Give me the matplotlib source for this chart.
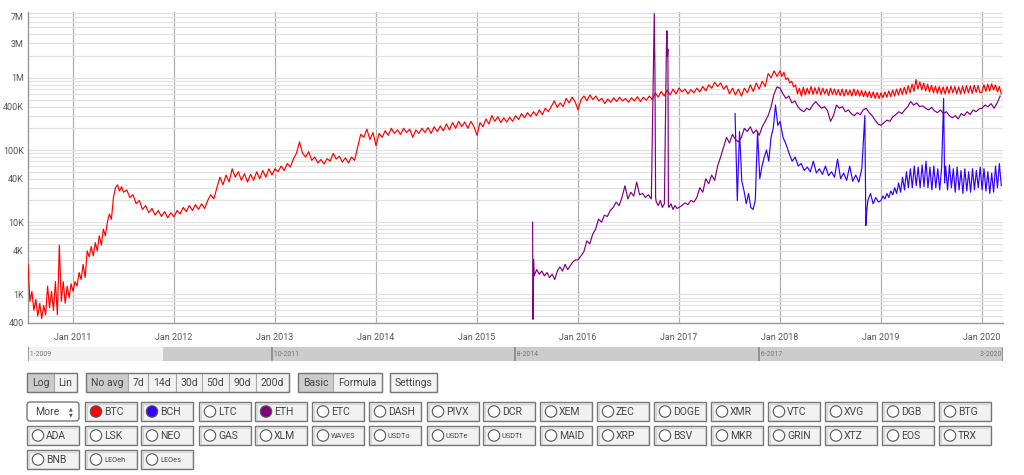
import numpy as np
import matplotlib
matplotlib.use('Agg')
import matplotlib.pyplot as plt
from matplotlib.patches import Rectangle, Circle, FancyBboxPatch
from matplotlib.ticker import FixedLocator, LogLocator, NullFormatter

plt.rcParams['font.family'] = ['Roboto', 'DejaVu Sans']

# ---- data: (start year, end year, values) segments, points evenly spaced inside each ----
btc_segments = [
    (2010.554, 2011.0, [2600, 800, 1100, 600, 850, 500, 750, 460, 700, 520, 1300, 650, 1100, 600,
                        1500, 520, 4800, 800, 1500, 750, 1300, 900, 1400]),
    (2011.0, 2011.5, [1100, 1500, 1300, 2000, 1600, 2600, 1700, 4000, 3300, 4600, 3400, 5200, 4000,
                      6500, 4800, 8000, 6500, 10000, 13000, 11000, 22000, 30000, 33000, 27000, 31000]),
    (2011.5, 2012.0, [26000, 28000, 22000, 24000, 18000, 20000, 15000, 17000, 13500, 15500, 12500,
                      14500, 12000, 14000, 11500, 13500]),
    (2012.0, 2013.0, [11800, 14500, 13000, 16000, 14000, 17000, 14500, 17500, 15000, 18000, 15500,
                      20000, 24000, 21000, 30000, 42000, 33000, 45000, 36000, 55000, 42000, 50000,
                      38000, 47000, 36000, 46000, 38000, 50000, 40000, 52000, 42000, 55000, 45000]),
    (2013.0, 2014.0, [55000, 50000, 60000, 52000, 65000, 58000, 75000, 90000, 130000, 90000, 80000,
                      95000, 72000, 80000, 66000, 74000, 64000, 76000, 70000, 90000, 75000, 82000,
                      68000, 78000, 66000, 80000, 72000, 110000, 165000, 150000, 195000, 140000, 175000]),
    (2014.0, 2015.0, [115000, 170000, 150000, 185000, 160000, 200000, 170000, 190000, 165000, 200000,
                      175000, 195000, 150000, 190000, 170000, 200000, 175000, 205000, 170000, 210000,
                      180000, 215000, 185000, 230000, 190000, 240000, 200000, 250000, 210000, 245000,
                      200000, 250000, 210000]),
    (2015.0, 2016.0, [160000, 240000, 210000, 270000, 230000, 300000, 250000, 290000, 240000, 280000,
                      245000, 285000, 250000, 300000, 265000, 320000, 280000, 330000, 290000, 340000,
                      300000, 360000, 310000, 380000, 340000, 400000, 480000, 390000, 450000, 400000,
                      520000, 450000, 540000, 470000]),
    (2016.0, 2017.0, [360000, 500000, 560000, 480000, 580000, 500000, 560000, 480000, 520000, 440000,
                      510000, 460000, 530000, 470000, 540000, 480000, 520000, 460000, 530000, 480000,
                      550000, 470000, 540000, 490000, 560000, 500000, 620000, 540000, 650000, 560000,
                      680000, 580000, 700000, 600000]),
    (2017.0, 2018.0, [720000, 640000, 700000, 600000, 690000, 620000, 720000, 640000, 760000, 660000,
                      800000, 720000, 870000, 760000, 850000, 700000, 780000, 600000, 720000, 580000,
                      700000, 560000, 720000, 620000, 800000, 650000, 850000, 700000, 900000, 760000,
                      1150000, 1000000, 1250000, 1050000]),
    (2018.0, 2019.0, [1250000, 1050000, 1200000, 950000, 1000000, 850000, 900000, 750000, 800000, 600000,
                      720000, 560000, 740000, 580000, 720000, 600000, 760000, 590000, 730000, 600000,
                      740000, 580000, 720000, 600000, 700000, 570000, 720000, 590000, 700000, 580000,
                      690000, 570000, 700000, 560000, 690000, 580000, 680000, 560000, 700000, 570000,
                      680000, 560000, 670000, 550000, 660000, 540000, 650000, 530000, 640000, 520000,
                      630000, 520000]),
    (2019.0, 2020.0, [620000, 530000, 640000, 540000, 660000, 550000, 680000, 560000, 700000, 580000,
                      720000, 590000, 740000, 600000, 780000, 620000, 820000, 650000, 950000, 700000,
                      880000, 680000, 850000, 660000, 820000, 640000, 790000, 620000, 770000, 610000,
                      760000, 600000, 750000, 600000, 760000, 610000, 770000, 620000, 760000, 600000,
                      750000, 600000, 770000, 610000, 780000, 620000, 770000, 610000, 790000, 630000,
                      780000, 620000]),
    (2020.0, 2020.21, [640000, 800000, 650000, 820000, 660000, 830000, 680000, 800000, 640000, 760000,
                       600000]),
]

eth_segments = [
    (2015.55, 2015.565, [10000, 450, 3000]),
    (2015.565, 2016.0, [1800, 2200, 1900, 2100, 1800, 2000, 1700, 1900, 1600, 2100, 2400, 2100, 2600,
                        2200, 2500, 2800, 3000]),
    (2016.0, 2016.755, [3000, 3400, 3900, 5500, 5000, 6800, 8000, 11000, 10000, 12500, 12000, 14500,
                        16000, 19000, 17000, 22000, 32000, 21000, 26000, 23000, 36000, 24000, 25000,
                        22000, 24000, 21000]),
    (2016.755, 2016.775, [7800000, 1200000, 22000]),
    (2016.775, 2016.875, [19000, 17000, 20000, 16000, 18000]),
    (2016.875, 2016.9, [2500000, 4500000, 2000000, 2500000, 17000]),
    (2016.9, 2017.0, [16000, 18000, 15000, 17000, 15500]),
    (2017.0, 2018.0, [16000, 17000, 18500, 17500, 20000, 19000, 22000, 30000, 26000, 40000, 34000,
                      45000, 38000, 60000, 80000, 110000, 150000, 125000, 165000, 140000, 130000,
                      150000, 200000, 180000, 210000, 170000, 190000, 160000, 210000, 250000, 300000,
                      400000, 600000, 750000]),
    (2018.0, 2019.0, [720000, 600000, 520000, 560000, 450000, 480000, 400000, 360000, 340000, 380000,
                      360000, 420000, 470000, 420000, 380000, 400000, 350000, 250000, 300000, 420000,
                      380000, 400000, 340000, 360000, 320000, 300000, 330000, 310000, 360000, 380000,
                      330000, 300000, 260000, 230000]),
    (2019.0, 2020.0, [220000, 240000, 260000, 250000, 290000, 310000, 340000, 320000, 360000, 400000,
                      470000, 420000, 450000, 400000, 410000, 380000, 360000, 390000, 350000, 330000,
                      360000, 320000, 340000, 300000, 280000, 300000, 270000, 320000, 300000, 340000,
                      310000, 360000, 340000, 370000]),
    (2020.0, 2020.21, [380000, 420000, 400000, 440000, 380000, 450000, 560000]),
]

bch_segments = [
    (2017.555, 2018.0, [320000, 20000, 180000, 37000, 27000, 18000, 25000, 16000, 15000, 20000,
                        180000, 40000, 60000, 80000, 100000, 70000, 150000, 200000, 420000, 220000]),
    (2018.0, 2018.84, [250000, 150000, 120000, 90000, 70000, 80000, 60000, 65000, 52000, 58000,
                       50000, 70000, 48000, 55000, 46000, 60000, 44000, 50000, 42000, 75000, 40000,
                       48000, 38000, 60000, 37000, 45000, 36000, 55000]),
    (2018.84, 2018.87, [300000, 9000, 15000]),
    (2018.87, 2019.0, [20000, 25000, 18000, 22000, 19000]),
    (2019.0, 2019.62, [20000, 23000, 21000, 25000, 22000, 27000, 24000, 30000, 25000, 35000, 26000,
                       42000, 28000, 50000, 30000, 55000, 30000, 60000, 32000, 58000, 30000, 62000,
                       31000, 70000, 30000, 58000, 28000, 60000, 30000, 55000, 28000, 58000]),
    (2019.62, 2019.64, [520000, 35000]),
    (2019.64, 2020.21, [60000, 28000, 62000, 30000, 55000, 26000, 58000, 28000, 52000, 25000, 55000,
                        27000, 50000, 26000, 55000, 28000, 52000, 30000, 58000, 28000, 55000, 27000,
                        50000, 25000, 48000, 26000, 60000, 30000, 65000, 32000]),
]

year_ticks = list(range(2011, 2021))
y_ticks = [400, 1e3, 4e3, 1e4, 4e4, 1e5, 4e5, 1e6, 3e6, 7e6]
y_labels = ['400', '1K', '4K', '10K', '40K', '100K', '400K', '1M', '3M', '7M']

range_ticks = [2009.0, 2011.8, 2014.6, 2017.4, 2020.2]
range_labels = ['1-2009', '10-2011', '8-2014', '6-2017', '3-2020']

button_groups = [
    [('Log', True), ('Lin', False)],
    [('No avg', True), ('7d', False), ('14d', False), ('30d', False), ('50d', False),
     ('90d', False), ('200d', False)],
    [('Basic', True), ('Formula', False)],
    [('Settings', False)],
]
button_edges = [[27, 54, 77], [86, 128, 148, 176, 202, 229, 256, 289], [298, 333, 382], [390, 437]]

asset_rows = [
    ['More', 'BTC', 'BCH', 'LTC', 'ETH', 'ETC', 'DASH', 'PIVX', 'DCR', 'XEM', 'ZEC', 'DOGE', 'XMR',
     'VTC', 'XVG', 'DGB', 'BTG'],
    ['ADA', 'LSK', 'NEO', 'GAS', 'XLM', 'WAVES', 'USDTo', 'USDTe', 'USDTt', 'MAID', 'XRP', 'BSV',
     'MKR', 'GRIN', 'XTZ', 'EOS', 'TRX'],
    ['BNB', 'LEOeh', 'LEOes'],
]
active = {'BTC': '#ff0000', 'BCH': '#3300ff', 'ETH': '#800080'}
small_names = {'WAVES', 'USDTo', 'USDTe', 'USDTt', 'LEOeh', 'LEOes'}


def expand(segs):
    t, v = [], []
    for t0, t1, vals in segs:
        step = (t1 - t0) / len(vals)
        t += [t0 + i * step for i in range(len(vals))]
        v += vals
    return np.array(t), np.array(v, dtype=float)


W, H = 1024, 475
fig = plt.figure(figsize=(W / 100, H / 100), dpi=100)


def px_axes(x0, y0, x1, y1):
    return fig.add_axes([x0 / W, 1 - y1 / H, (x1 - x0) / W, (y1 - y0) / H])


# main chart
ax = px_axes(28, 12, 1003, 323)
ax.set_yscale('log')
ax.set_ylim(400, 8.2e6)
ax.set_xlim(2010.554, 2020.208)

for segs, col in [(btc_segments, '#ff0000'), (bch_segments, '#3300ff'), (eth_segments, '#800080')]:
    t, v = expand(segs)
    ax.plot(t, v, color=col, lw=0.85, zorder=3)

ax.yaxis.set_major_locator(FixedLocator(y_ticks))
ax.yaxis.set_major_formatter(plt.FixedFormatter(y_labels))
ax.yaxis.set_minor_locator(LogLocator(base=10, subs=range(1, 10)))
ax.yaxis.set_minor_formatter(NullFormatter())
ax.set_xticks(year_ticks)
ax.set_xticklabels(['Jan %d' % y for y in year_ticks])
ax.grid(True, which='both', axis='y', color='#e2e2e2', lw=0.9, zorder=0)
ax.grid(True, which='major', axis='x', color='#b0b0b0', lw=0.9, zorder=1)
ax.tick_params(which='both', length=0, labelsize=6.5, labelcolor='#555555')
ax.tick_params(axis='x', pad=7)
ax.tick_params(axis='y', pad=3)
for s in ['top', 'right']:
    ax.spines[s].set_visible(False)
for s in ['left', 'bottom']:
    ax.spines[s].set_color('#999999')
    ax.spines[s].set_linewidth(1)

# range selector
ar = px_axes(28, 347, 1003, 361)
ar.set_xlim(range_ticks[0], range_ticks[-1])
ar.set_ylim(0, 1)
ar.axvspan(range_ticks[0], 2010.554, color='#f2f2f2', lw=0)
ar.axvspan(2010.554, range_ticks[-1], color='#cccccc', lw=0)
for i, (t, lab) in enumerate(zip(range_ticks, range_labels)):
    ar.axvline(t, color='#888888', lw=1.2)
    if i < len(range_ticks) - 1:
        ar.text(t, 0.5, ' ' + lab, fontsize=5, color='#777777', va='center', ha='left')
    else:
        ar.text(t, 0.5, lab + ' ', fontsize=5, color='#777777', va='center', ha='right')
ar.axis('off')

# controls
ui = fig.add_axes([0, 0, 1, 1])
ui.set_xlim(0, W)
ui.set_ylim(H, 0)
ui.axis('off')

top, bot = 373, 392
for group, edges in zip(button_groups, button_edges):
    for (lab, sel), x0, x1 in zip(group, edges[:-1], edges[1:]):
        ui.add_patch(Rectangle((x0, top), x1 - x0, bot - top, facecolor='#cccccc' if sel else '#f2f2f2',
                               edgecolor='#aaaaaa', lw=0.8))
        ui.text((x0 + x1) / 2, (top + bot) / 2 + 0.5, lab, fontsize=7.5, color='#444444',
                ha='center', va='center')
    ui.add_patch(Rectangle((edges[0], top), edges[-1] - edges[0], bot - top, facecolor='none',
                           edgecolor='#777777', lw=1))

col_x = [27, 85, 141, 199, 255, 312, 369, 427, 483, 540, 597, 654, 711, 768, 825, 882, 939]
row_y = [402, 426, 450]
bw, bh = 52, 19
for names, y0 in zip(asset_rows, row_y):
    for name, x0 in zip(names, col_x):
        if name == 'More':
            ui.add_patch(FancyBboxPatch((x0, y0), bw, bh, boxstyle='round,pad=0,rounding_size=3',
                                        facecolor='white', edgecolor='#777777', lw=1))
            ui.text(x0 + 8, y0 + bh / 2 + 0.5, 'More', fontsize=7.5, color='#444444', va='center')
            ui.text(x0 + 44, y0 + bh / 2 - 3, '▲', fontsize=3.5, color='#555555', va='center', ha='center')
            ui.text(x0 + 44, y0 + bh / 2 + 3, '▼', fontsize=3.5, color='#555555', va='center', ha='center')
            continue
        ui.add_patch(Rectangle((x0, y0), bw, bh, facecolor='#f2f2f2', edgecolor='#777777', lw=1))
        ui.add_patch(Rectangle((x0 + 1.5, y0 + 1.5), bw - 3, bh - 3, facecolor='none',
                               edgecolor='#cfcfcf', lw=0.6))
        c = active.get(name)
        ui.add_patch(Circle((x0 + 11, y0 + bh / 2), 5.7, facecolor=c if c else 'white',
                            edgecolor='#555555', lw=0.8))
        ui.text(x0 + 19, y0 + bh / 2 + 0.5, name, fontsize=5.3 if name in small_names else 7.5,
                color='#444444', va='center', ha='left')

fig.savefig('out.png', dpi=100)
